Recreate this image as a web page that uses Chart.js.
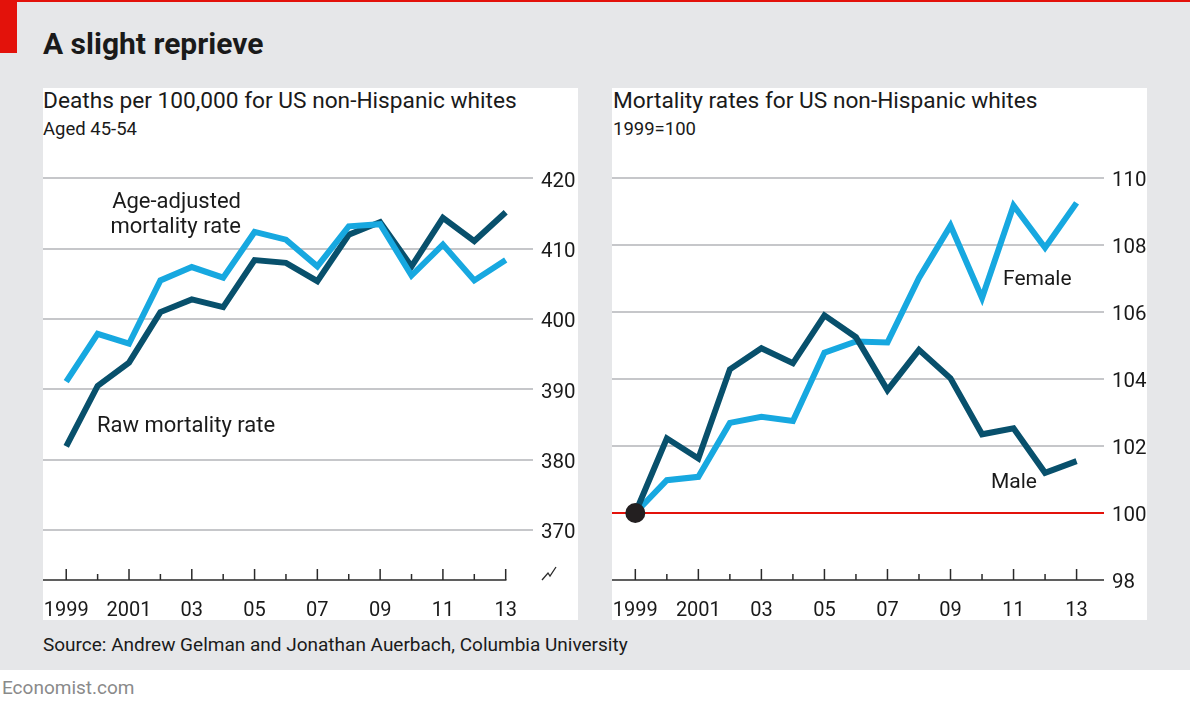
<!DOCTYPE html>
<html><head><meta charset="utf-8">
<script src="https://cdn.jsdelivr.net/npm/chart.js@4.4.1/dist/chart.umd.min.js"></script>
<style>
html,body{margin:0;padding:0;}
body{width:1190px;height:706px;position:relative;background:#fff;overflow:hidden;font-family:Roboto,sans-serif;color:#1a1a1a;}
#bg{position:absolute;left:0;top:0;width:1190px;height:670px;background:#e6e7e9;}
#topline{position:absolute;left:0;top:0;width:1190px;height:2px;background:#e3120b;}
#redbox{position:absolute;left:0;top:0;width:17px;height:53px;background:#e3120b;}
.panel{position:absolute;top:88px;height:532px;width:535px;background:#fff;}
.txt{position:absolute;white-space:nowrap;}
.cv{position:absolute;top:150px;width:535px;height:475px;}
</style></head>
<body>
<div id="bg"></div>
<div id="topline"></div>
<div id="redbox"></div>
<div class="panel" style="left:43px"></div>
<div class="panel" style="left:612px"></div>
<div class="txt" style="left:43px;top:27px;font-size:30px;line-height:34px;font-weight:700;">A slight reprieve</div>
<div class="txt" style="left:43px;top:88px;font-size:22.7px;line-height:26px;">Deaths per 100,000 for US non-Hispanic whites</div>
<div class="txt" style="left:43px;top:118px;font-size:18.5px;line-height:22px;">Aged 45-54</div>
<div class="txt" style="left:613px;top:88px;font-size:22.7px;line-height:26px;">Mortality rates for US non-Hispanic whites</div>
<div class="txt" style="left:613px;top:118px;font-size:18.5px;line-height:22px;">1999=100</div>
<div class="txt" style="left:43px;top:633px;font-size:19px;line-height:24px;">Source: Andrew Gelman and Jonathan Auerbach, Columbia University</div>
<div class="txt" style="left:2px;top:676px;font-size:19px;line-height:24px;color:#8a8a8a;">Economist.com</div>
<div class="cv" style="left:43px"><canvas id="c1" width="535" height="475"></canvas></div>
<div class="cv" style="left:612px"><canvas id="c2" width="535" height="475"></canvas></div>
<div class="txt" style="right:949px;top:188px;font-size:22px;line-height:25px;text-align:right;">Age-adjusted<br>mortality rate</div>
<div class="txt" style="left:97px;top:412px;font-size:22px;line-height:26px;">Raw mortality rate</div>
<div class="txt" style="left:1003px;top:265px;font-size:21px;line-height:26px;">Female</div>
<div class="txt" style="left:991px;top:468px;font-size:21px;line-height:26px;">Male</div>
<script>
// ---- data ----
const years = [1999,2000,2001,2002,2003,2004,2005,2006,2007,2008,2009,2010,2011,2012,2013];
const ageAdjusted = [391.1,397.9,396.5,405.5,407.4,405.9,412.4,411.3,407.5,413.2,413.5,406.2,410.6,405.5,408.4];
const rawRate = [381.9,390.5,393.8,401.0,402.8,401.7,408.4,408.0,405.4,412.0,413.8,407.5,414.4,411.1,415.2];
const male = [100,102.23,101.63,104.29,104.92,104.47,105.90,105.25,103.67,104.87,104.02,102.35,102.53,101.20,101.55];
const female = [100,100.98,101.08,102.69,102.87,102.75,104.79,105.12,105.09,107.02,108.58,106.42,109.18,107.92,109.26];
const xTickYears = [1999,2001,2003,2005,2007,2009,2011,2013];
const xTickLabels = ['1999','2001','03','05','07','09','11','13'];
const leftYTicks = [370,380,390,400,410,420];
const rightYTicks = [98,100,102,104,106,108,110];
const baseYear = 1999, baseValue = 100;

const DARK = '#08506c', LIGHT = '#17a8e0', GRID = '#c6c7ca', RED = '#e3120b', INK = '#1a1a1a';
const pts = arr => arr.map((v,i)=>({x:years[i], y:v}));

const axisDecor = {
  id:'axisDecor',
  afterDraw(chart, args, opts){
    const {ctx, chartArea:a, scales:{x}} = chart;
    ctx.save();
    ctx.strokeStyle = '#2a2a2a'; ctx.lineWidth = 1.5;
    const yb = a.bottom;
    const endX = opts.endYear ? x.getPixelForValue(opts.endYear) + 0.75 : a.right;
    ctx.beginPath(); ctx.moveTo(a.left, yb); ctx.lineTo(endX, yb); ctx.stroke();
    years.forEach(yr=>{
      const px = x.getPixelForValue(yr);
      const len = (yr % 2 === 1) ? 11 : 6;
      ctx.beginPath(); ctx.moveTo(px, yb); ctx.lineTo(px, yb - len); ctx.stroke();
    });
    if (opts.brk){
      const cx = a.right + 16, cy = yb - 8;
      ctx.lineWidth = 1.3;
      ctx.beginPath();
      ctx.moveTo(cx-7, cy+8); ctx.lineTo(cx-1, cy+1); ctx.lineTo(cx+1, cy+4); ctx.lineTo(cx+7, cy-5);
      ctx.stroke();
    }
    ctx.restore();
  }
};

function xScale(){
  return {
    type:'linear', min:1998.26, max:2013.87,
    afterBuildTicks: s=>{ s.ticks = xTickYears.map(v=>({value:v})); },
    afterFit: s=>{ s.height = 45; s.paddingLeft = 0; s.paddingRight = 0; s.paddingTop = 0; s.paddingBottom = 0; },
    grid:{display:false}, border:{display:false},
    ticks:{padding:11, autoSkip:false, maxRotation:0, color:INK,
      font:{family:'Roboto', size:20},
      callback:(v,i)=>xTickLabels[i]}
  };
}
function yScale(min,max,ticks,width,gridColor){
  return {
    position:'right', min, max,
    afterBuildTicks: s=>{ s.ticks = ticks.map(v=>({value:v})); },
    afterFit: s=>{ s.width = width; s.paddingTop = 0; s.paddingBottom = 0; s.paddingLeft = 0; s.paddingRight = 0; },
    grid:{color:gridColor, lineWidth:2, drawTicks:false},
    border:{display:false},
    ticks:{padding:8, labelOffset:3, color:INK, font:{family:'Roboto', size:20.5}}
  };
}
const common = {
  responsive:false, animation:false, devicePixelRatio:1,
  layout:{autoPadding:false, padding:{top:15,left:0,right:0,bottom:0}},
  plugins:{legend:{display:false}, tooltip:{enabled:false}}
};

new Chart(document.getElementById('c1'), {
  type:'line',
  data:{datasets:[
    {data:pts(ageAdjusted), borderColor:LIGHT, borderWidth:6, pointRadius:0, tension:0, borderJoinStyle:'miter', borderCapStyle:'butt'},
    {data:pts(rawRate), borderColor:DARK, borderWidth:6, pointRadius:0, tension:0, borderJoinStyle:'miter', borderCapStyle:'butt'}
  ]},
  options:Object.assign({}, common, {
    scales:{ x:xScale(), y:yScale(362.89, 421.92, leftYTicks, 45, GRID) },
    plugins:Object.assign({}, common.plugins, {axisDecor:{endYear:2013, brk:true}})
  }),
  plugins:[axisDecor]
});

new Chart(document.getElementById('c2'), {
  type:'line',
  data:{datasets:[
    {data:[{x:baseYear, y:baseValue}], showLine:false, pointRadius:10, pointBackgroundColor:'#231f20', pointBorderWidth:0},
    {data:pts(male), borderColor:DARK, borderWidth:6, pointRadius:0, tension:0, borderJoinStyle:'miter', borderCapStyle:'butt'},
    {data:pts(female), borderColor:LIGHT, borderWidth:6, pointRadius:0, tension:0, borderJoinStyle:'miter', borderCapStyle:'butt'}
  ]},
  options:Object.assign({}, common, {
    scales:{ x:xScale(), y:yScale(98, 110.39, rightYTicks, 43, ctx=>{
      const v = ctx.tick && ctx.tick.value;
      if (v === 98) return 'rgba(0,0,0,0)';
      if (v === 100) return RED;
      return GRID;
    }) },
    plugins:Object.assign({}, common.plugins, {axisDecor:{endYear:null, brk:false}})
  }),
  plugins:[axisDecor]
});
</script>
</body></html>
